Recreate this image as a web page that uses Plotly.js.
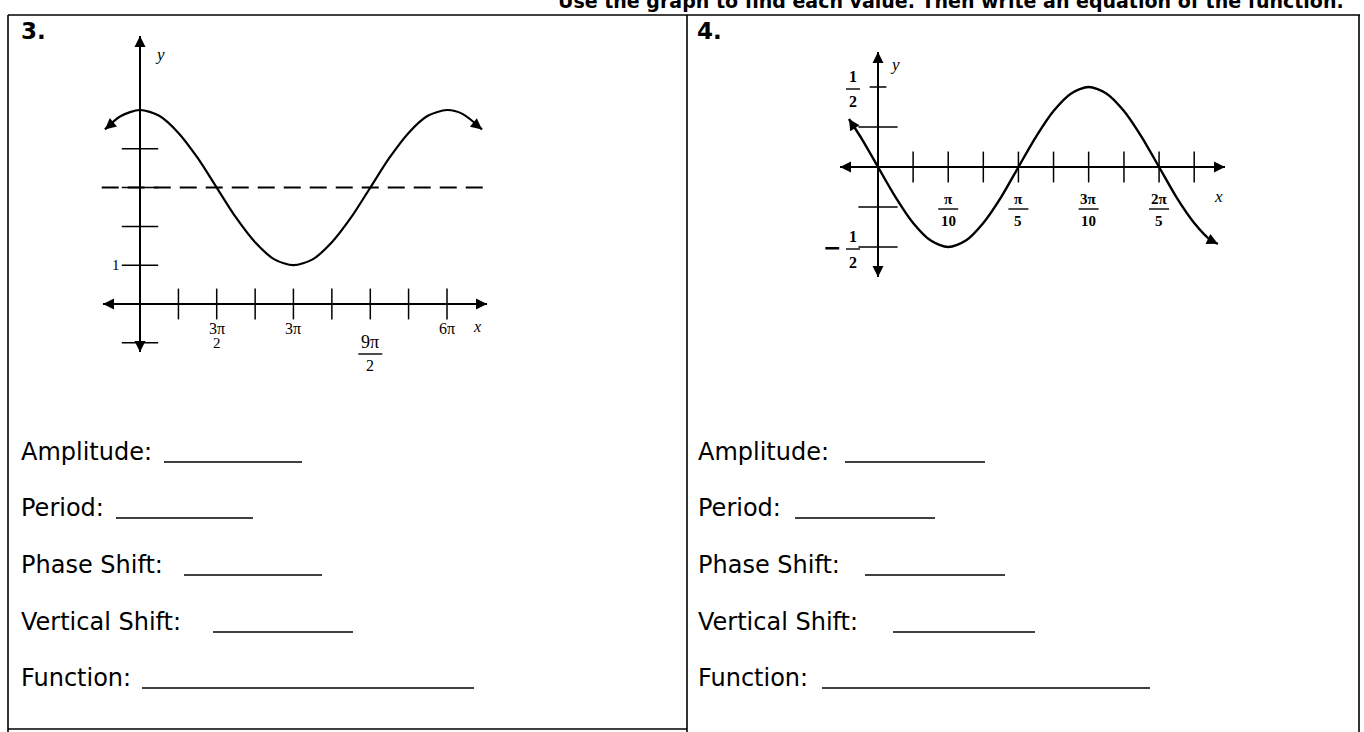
<!DOCTYPE html>
<html>
<head>
<meta charset="utf-8">
<script src="https://cdn.plot.ly/plotly-3.0.1.min.js"></script>
<style>
html,body{margin:0;padding:0;background:#fff;}
#chart{width:1364px;height:732px;}
</style>
</head>
<body>
<div id="chart"></div>
<script>
// ---------- Data: graph 3 ----------
const g3CurveX = [-2.15, -1.2, 0, 1.18, 2.36, 3.53, 4.71, 5.89, 7.07, 8.25, 9.42, 10.60, 11.78, 12.96, 14.14, 15.32, 16.49, 17.67, 18.85, 19.8, 21.0];
const g3CurveY = [4.5, 4.84, 5, 4.85, 4.41, 3.77, 3, 2.23, 1.59, 1.15, 1, 1.15, 1.59, 2.23, 3, 3.77, 4.41, 4.85, 5, 4.9, 4.5];
const g3MidlineX = [-2.35, 21.3];
const g3MidlineY = [3, 3];
const g3TickX = [2.36, 4.71, 7.07, 9.42, 11.78, 14.14, 16.49, 18.85];
const g3TickY = [-1, 1, 2, 3, 4];
const g3LabelX = [4.71, 9.42, 14.14, 18.85];
const g3LabelNum = ['3π', '3π', '9π', '6π'];
const g3LabelDen = ['2', '', '2', ''];
const g3YLabelVal = [1];
const g3YLabelText = ['1'];

// ---------- Data: graph 4 ----------
const g4CurveX = [-0.13, -0.07, 0, 0.079, 0.157, 0.236, 0.314, 0.393, 0.471, 0.550, 0.628, 0.707, 0.785, 0.864, 0.942, 1.021, 1.100, 1.178, 1.257, 1.335, 1.414, 1.49, 1.52];
const g4CurveY = [0.30, 0.17, 0, -0.19, -0.35, -0.46, -0.5, -0.46, -0.35, -0.19, 0, 0.19, 0.35, 0.46, 0.5, 0.46, 0.35, 0.19, 0, -0.19, -0.35, -0.46, -0.48];
const g4TickX = [0.157, 0.314, 0.471, 0.628, 0.785, 0.942, 1.100, 1.257, 1.414];
const g4TickY = [-0.5, -0.25, 0.25];
const g4SmallTickY = [0.5];
const g4LabelX = [0.314, 0.628, 0.942, 1.257];
const g4LabelNum = ['π', 'π', '3π', '2π'];
const g4LabelDen = ['10', '5', '10', '5'];
const g4YLabelVal = [0.5, -0.5];
const g4YLabelSign = ['', '−'];
const g4YLabelNum = ['1', '1'];
const g4YLabelDen = ['2', '2'];

// ---------- Worksheet text ----------
const fieldLabels = ['Amplitude:', 'Period:', 'Phase Shift:', 'Vertical Shift:', 'Function:'];

// ---------- Layout geometry ----------
const W = 1364, H = 732;
const fx = px => px / W;
const fy = py => 1 - py / H;

const o3 = {x: 140, y: 304};
const s3x = (447 - 140) / (6 * Math.PI);
const s3y = 38.8;
const o4 = {x: 878, y: 167};
const s4x = (1159 - 878) / (2 * Math.PI / 5);
const s4y = 160;

const serif = 'Liberation Serif, DejaVu Serif, serif';
const hand = 'Comic Sans MS, DejaVu Sans, sans-serif';
const BLACK = '#000';

const traces = [];
const annotations = [];
const shapes = [];

function lineTrace(x, y, xa, ya, extra) {
  return Object.assign({
    type: 'scatter', mode: 'lines', x: x, y: y, xaxis: xa, yaxis: ya,
    line: {color: BLACK, width: 2}, hoverinfo: 'skip', showlegend: false
  }, extra || {});
}
function tickTrace(x, y, xa, ya, symbol, size) {
  return {
    type: 'scatter', mode: 'markers', x: x, y: y, xaxis: xa, yaxis: ya,
    marker: {symbol: symbol, size: size, color: BLACK, line: {color: BLACK, width: 1.5}},
    hoverinfo: 'skip', showlegend: false
  };
}
function arrowHead(xr, yr, x, y, dxPix, dyPix) {
  const len = Math.hypot(dxPix, dyPix);
  const k = 12 / len;
  annotations.push({
    xref: xr, yref: yr, x: x, y: y, text: '', showarrow: true,
    ax: -dxPix * k, ay: -dyPix * k, arrowhead: 2, arrowsize: 1.1,
    arrowwidth: 2, arrowcolor: BLACK, standoff: 0
  });
}
function label(xr, yr, x, y, text, opts) {
  annotations.push(Object.assign({
    xref: xr, yref: yr, x: x, y: y, text: text, showarrow: false,
    font: {family: serif, size: 16, color: BLACK},
    xanchor: 'center', yanchor: 'middle'
  }, opts || {}));
}
function fracBar(xr, yr, x, y, dxHalf, dyPix, xOff, w) {
  const o = xOff || 0;
  shapes.push({
    type: 'line', xref: xr, yref: yr,
    xsizemode: 'pixel', xanchor: x, x0: o - dxHalf, x1: o + dxHalf,
    ysizemode: 'pixel', yanchor: y, y0: dyPix, y1: dyPix,
    line: {color: BLACK, width: w || 1.4}
  });
}

// ===== Graph 3 =====
const g3xMin = (103 - o3.x) / s3x, g3xMax = (487 - o3.x) / s3x;
const g3yMin = (o3.y - 352) / s3y, g3yMax = (o3.y - 36) / s3y;
traces.push(lineTrace([g3xMin, g3xMax], [0, 0], 'x', 'y'));
traces.push(lineTrace([0, 0], [g3yMin, g3yMax], 'x', 'y'));
traces.push(lineTrace(g3MidlineX, g3MidlineY, 'x', 'y', {line: {color: BLACK, width: 2, dash: '17px,9px'}}));
traces.push(tickTrace(g3TickX, g3TickX.map(() => 0), 'x', 'y', 'line-ns-open', 22));
traces.push(tickTrace(g3TickY.map(() => 0), g3TickY, 'x', 'y', 'line-ew-open', 26));
traces.push(lineTrace(g3CurveX, g3CurveY, 'x', 'y', {line: {color: BLACK, width: 2.2, shape: 'spline', smoothing: 0.8}}));

arrowHead('x', 'y', g3xMax, 0, 1, 0);
arrowHead('x', 'y', g3xMin, 0, -1, 0);
arrowHead('x', 'y', 0, g3yMax, 0, -1);
arrowHead('x', 'y', 0, g3yMin, 0, 1);
{
  const n = g3CurveX.length;
  arrowHead('x', 'y', g3CurveX[0], g3CurveY[0],
    (g3CurveX[0] - g3CurveX[1]) * s3x, -(g3CurveY[0] - g3CurveY[1]) * s3y);
  arrowHead('x', 'y', g3CurveX[n - 1], g3CurveY[n - 1],
    (g3CurveX[n - 1] - g3CurveX[n - 2]) * s3x, -(g3CurveY[n - 1] - g3CurveY[n - 2]) * s3y);
}
g3LabelX.forEach((x, i) => {
  const low = (g3LabelNum[i] === '9π');
  if (low) {
    label('x', 'y', x, 0, g3LabelNum[i], {yshift: -38, font: {family: serif, size: 18, color: BLACK}});
    fracBar('x', 'y', x, 0, 12, -50);
    label('x', 'y', x, 0, g3LabelDen[i], {yshift: -61, font: {family: serif, size: 16, color: BLACK}});
  } else {
    label('x', 'y', x, 0, g3LabelNum[i], {yshift: -24});
    if (g3LabelDen[i]) label('x', 'y', x, 0, g3LabelDen[i], {yshift: -39, font: {family: serif, size: 15, color: BLACK}});
  }
});
g3YLabelVal.forEach((v, i) => label('x', 'y', 0, v, g3YLabelText[i], {xshift: -24, font: {family: serif, size: 15, color: BLACK}}));
label('x', 'y', 0, g3yMax, '<i>y</i>', {xshift: 20, yshift: -18, font: {family: serif, size: 17, color: BLACK}});
label('x', 'y', g3xMax, 0, '<i>x</i>', {xshift: -10, yshift: -22, font: {family: serif, size: 16, color: BLACK}});

// ===== Graph 4 =====
const g4xMin = (840 - o4.x) / s4x, g4xMax = (1225 - o4.x) / s4x;
const g4yMin = (o4.y - 277) / s4y, g4yMax = (o4.y - 52) / s4y;
traces.push(lineTrace([g4xMin, g4xMax], [0, 0], 'x2', 'y2'));
traces.push(lineTrace([0, 0], [g4yMin, g4yMax], 'x2', 'y2'));
traces.push(tickTrace(g4TickX, g4TickX.map(() => 0), 'x2', 'y2', 'line-ns-open', 22));
traces.push(tickTrace(g4TickY.map(() => 0), g4TickY, 'x2', 'y2', 'line-ew-open', 28));
traces.push(tickTrace(g4SmallTickY.map(() => 0), g4SmallTickY, 'x2', 'y2', 'line-ew-open', 12));
traces.push(lineTrace(g4CurveX, g4CurveY, 'x2', 'y2', {line: {color: BLACK, width: 2.4, shape: 'spline', smoothing: 0.8}}));

arrowHead('x2', 'y2', g4xMax, 0, 1, 0);
arrowHead('x2', 'y2', g4xMin, 0, -1, 0);
arrowHead('x2', 'y2', 0, g4yMax, 0, -1);
arrowHead('x2', 'y2', 0, g4yMin, 0, 1);
{
  const n = g4CurveX.length;
  arrowHead('x2', 'y2', g4CurveX[0], g4CurveY[0],
    (g4CurveX[0] - g4CurveX[1]) * s4x, -(g4CurveY[0] - g4CurveY[1]) * s4y);
  arrowHead('x2', 'y2', g4CurveX[n - 1], g4CurveY[n - 1],
    (g4CurveX[n - 1] - g4CurveX[n - 2]) * s4x, -(g4CurveY[n - 1] - g4CurveY[n - 2]) * s4y);
}
const f4 = {family: serif, size: 15, color: BLACK};
g4LabelX.forEach((x, i) => {
  label('x2', 'y2', x, 0, '<b>' + g4LabelNum[i] + '</b>', {yshift: -32, font: f4});
  fracBar('x2', 'y2', x, 0, 10, -42);
  label('x2', 'y2', x, 0, '<b>' + g4LabelDen[i] + '</b>', {yshift: -54, font: f4});
});
const f4y = {family: serif, size: 16, color: BLACK};
g4YLabelVal.forEach((v, i) => {
  label('x2', 'y2', 0, v, '<b>' + g4YLabelNum[i] + '</b>', {xshift: -25, yshift: 10, font: f4y});
  fracBar('x2', 'y2', 0, v, 7, -2, -25);
  label('x2', 'y2', 0, v, '<b>' + g4YLabelDen[i] + '</b>', {xshift: -25, yshift: -15, font: f4y});
  if (g4YLabelSign[i]) label('x2', 'y2', 0, v, '<b>' + g4YLabelSign[i] + '</b>', {xshift: -46, yshift: -1, font: {family: 'DejaVu Sans, sans-serif', size: 22, color: BLACK}});
});
label('x2', 'y2', 0, g4yMax, '<i>y</i>', {xshift: 17, yshift: -13, font: {family: serif, size: 17, color: BLACK}});
label('x2', 'y2', g4xMax, 0, '<i>x</i>', {xshift: -7, yshift: -30, font: {family: serif, size: 17, color: BLACK}});

// ===== Worksheet frame =====
const frame = [
  [8, 15, 1360, 15], [8, 15, 8, 732], [687, 15, 687, 732], [1359, 15, 1359, 732], [8, 729, 687, 729]
];
frame.forEach(f => shapes.push({type: 'line', xref: 'paper', yref: 'paper',
  x0: fx(f[0]), y0: fy(f[1]), x1: fx(f[2]), y1: fy(f[3]), line: {color: BLACK, width: 1.6}}));

annotations.push({xref: 'paper', yref: 'paper', x: fx(1346), y: fy(14), xanchor: 'right', yanchor: 'bottom',
  text: '<b>Use the graph to find each value. Then write an equation of the function.</b>', showarrow: false,
  font: {family: 'DejaVu Sans, sans-serif', size: 19, color: BLACK}});
annotations.push({xref: 'paper', yref: 'paper', x: fx(19), y: fy(31), xanchor: 'left', yanchor: 'middle',
  text: '<b>3.</b>', showarrow: false, font: {family: 'DejaVu Sans, sans-serif', size: 23, color: BLACK}});
annotations.push({xref: 'paper', yref: 'paper', x: fx(695), y: fy(31), xanchor: 'left', yanchor: 'middle',
  text: '<b>4.</b>', showarrow: false, font: {family: 'DejaVu Sans, sans-serif', size: 23, color: BLACK}});

const rowY = [452, 508, 565, 622, 678];
const lineLeft = [[164, 302], [116, 253], [184, 322], [213, 353], [142, 474]];
const lineRight = [[845, 985], [795, 935], [865, 1005], [893, 1035], [822, 1150]];
fieldLabels.forEach((t, i) => {
  [[19, lineLeft[i]], [696, lineRight[i]]].forEach(([x0, ln]) => {
    annotations.push({xref: 'paper', yref: 'paper', x: fx(x0), y: fy(rowY[i]), xanchor: 'left', yanchor: 'middle',
      text: t, showarrow: false, font: {family: hand, size: 24, color: BLACK}});
    shapes.push({type: 'line', xref: 'paper', yref: 'paper', x0: fx(ln[0]), x1: fx(ln[1]),
      y0: fy(rowY[i] + 10), y1: fy(rowY[i] + 10), line: {color: BLACK, width: 1.6}});
  });
});

const hidden = {visible: false, fixedrange: true};
const layout = {
  width: W, height: H,
  margin: {l: 0, r: 0, t: 0, b: 0},
  paper_bgcolor: '#fff', plot_bgcolor: 'rgba(0,0,0,0)',
  showlegend: false,
  xaxis: Object.assign({domain: [fx(95), fx(495)], range: [(95 - o3.x) / s3x, (495 - o3.x) / s3x]}, hidden),
  yaxis: Object.assign({domain: [fy(360), fy(30)], range: [(o3.y - 360) / s3y, (o3.y - 30) / s3y]}, hidden),
  xaxis2: Object.assign({domain: [fx(800), fx(1250)], range: [(800 - o4.x) / s4x, (1250 - o4.x) / s4x], anchor: 'y2'}, hidden),
  yaxis2: Object.assign({domain: [fy(300), fy(40)], range: [(o4.y - 300) / s4y, (o4.y - 40) / s4y], anchor: 'x2'}, hidden),
  annotations: annotations,
  shapes: shapes
};
Plotly.newPlot('chart', traces, layout, {staticPlot: true, displayModeBar: false});
</script>
</body>
</html>
